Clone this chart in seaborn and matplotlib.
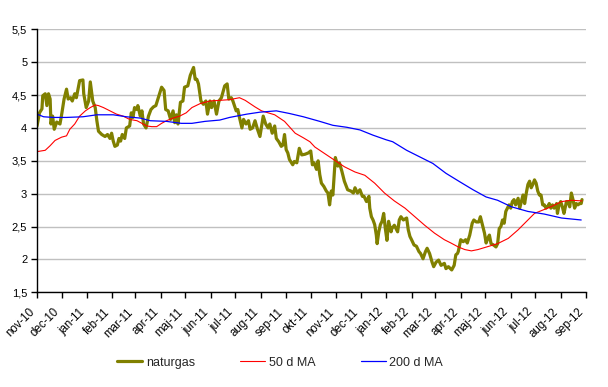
import pandas as pd
import matplotlib.pyplot as plt
import matplotlib.ticker as mticker
import matplotlib.transforms as mtransforms
import seaborn as sns

start = pd.Timestamp('2010-11-01')

# naturgas price (days since 1 nov 2010, value)
gas_days = [0, 3, 6, 7, 10, 12, 14, 16, 17, 19, 21, 24, 28, 30, 33, 36, 38, 41, 43, 46,
            48, 52, 56, 57, 60, 63, 65, 68, 71, 73, 75, 79, 83, 86, 89, 91, 93, 95, 98, 100,
            102, 104, 107, 109, 113, 115, 117, 119, 122, 123, 126, 128, 130, 133, 136, 139, 142, 145, 148, 152,
            155, 157, 160, 163, 166, 168, 170, 172, 175, 178, 180, 184, 187, 191, 193, 195, 197, 200, 203, 206,
            208, 211, 213, 216, 219, 222, 225, 229, 232, 234, 237, 239, 243, 245, 247, 250, 252, 255, 258, 260,
            263, 266, 269, 272, 274, 276, 279, 282, 284, 287, 290, 292, 295, 298, 300, 302, 304, 306, 308, 312,
            314, 317, 320, 323, 327, 331, 334, 336, 338, 341, 343, 345, 347, 350, 353, 355, 357, 359, 361, 364,
            367, 369, 372, 375, 379, 383, 386, 388, 391, 394, 397, 399, 402, 405, 406, 408, 410, 412, 414, 415,
            417, 419, 421, 423, 425, 427, 429, 432, 433, 436, 440, 442, 444, 447, 451, 453, 455, 457, 460, 463,
            466, 468, 471, 474, 476, 479, 482, 484, 487, 490, 493, 497, 499, 502, 506, 509, 511, 513, 514, 517,
            520, 523, 525, 528, 531, 533, 536, 539, 541, 544, 546, 548, 550, 552, 554, 557, 560, 562, 564, 566,
            568, 570, 572, 574, 576, 578, 580, 582, 584, 587, 589, 591, 593, 595, 597, 599, 601, 603, 605, 607,
            609, 611, 613, 615, 617, 619, 621, 623, 625, 627, 629, 631, 634, 635, 637, 639, 641, 643, 646, 648,
            650, 652, 654, 656, 658, 660, 662, 664, 665]
gas_price = [4.03, 4.23, 4.29, 4.49, 4.52, 4.34, 4.52, 4.44, 4.06, 4.18, 3.98, 4.09, 4.06, 4.20, 4.44, 4.59, 4.44, 4.46, 4.41, 4.52,
             4.46, 4.72, 4.73, 4.52, 4.31, 4.41, 4.70, 4.41, 4.31, 4.11, 3.95, 3.90, 3.87, 3.90, 3.84, 3.92, 3.80, 3.72, 3.74, 3.84,
             3.80, 3.90, 3.84, 4.00, 4.03, 4.23, 4.16, 4.31, 4.28, 4.34, 4.18, 4.26, 4.06, 4.00, 4.18, 4.28, 4.32, 4.34, 4.46, 4.62,
             4.57, 4.28, 4.26, 4.13, 4.26, 4.08, 4.20, 4.06, 4.39, 4.41, 4.62, 4.64, 4.80, 4.92, 4.74, 4.74, 4.67, 4.41, 4.36, 4.41,
             4.21, 4.41, 4.31, 4.41, 4.21, 4.41, 4.46, 4.64, 4.67, 4.44, 4.46, 4.41, 4.26, 4.28, 4.16, 4.00, 4.13, 4.06, 4.11, 3.98,
             4.00, 4.11, 3.98, 3.87, 4.03, 4.18, 4.06, 4.00, 4.06, 3.92, 4.03, 3.84, 3.79, 3.72, 3.74, 3.90, 3.67, 3.62, 3.52, 3.44,
             3.49, 3.47, 3.69, 3.59, 3.60, 3.62, 3.65, 3.44, 3.47, 3.37, 3.50, 3.29, 3.16, 3.11, 3.04, 3.01, 2.83, 3.04, 2.98, 3.55,
             3.42, 3.47, 3.34, 3.19, 3.06, 3.04, 3.01, 3.09, 3.01, 3.06, 2.96, 2.96, 2.88, 2.96, 2.78, 2.65, 2.60, 2.53, 2.37, 2.24,
             2.42, 2.53, 2.58, 2.70, 2.47, 2.29, 2.58, 2.42, 2.47, 2.52, 2.42, 2.60, 2.65, 2.60, 2.63, 2.45, 2.35, 2.30, 2.22, 2.20,
             2.12, 2.09, 2.01, 2.12, 2.17, 2.09, 1.96, 1.89, 1.96, 1.99, 1.91, 1.94, 1.86, 1.89, 1.84, 1.91, 2.07, 2.09, 2.12, 2.30,
             2.27, 2.30, 2.25, 2.37, 2.55, 2.60, 2.57, 2.57, 2.65, 2.50, 2.40, 2.25, 2.32, 2.37, 2.24, 2.22, 2.19, 2.24, 2.47, 2.50,
             2.60, 2.55, 2.73, 2.78, 2.83, 2.78, 2.88, 2.91, 2.83, 2.93, 2.78, 2.88, 2.98, 2.85, 3.01, 3.14, 3.19, 3.09, 3.14, 3.21,
             3.16, 3.04, 2.98, 2.98, 2.83, 2.83, 2.78, 2.80, 2.85, 2.78, 2.83, 2.78, 2.85, 2.70, 2.83, 2.88, 2.80, 2.70, 2.88, 2.88,
             2.80, 3.01, 2.91, 2.78, 2.85, 2.83, 2.85, 2.85, 2.91]

# 50 day moving average
ma50_days = [0, 10, 16, 22, 30, 36, 40, 46, 52, 59, 65, 71, 75, 81, 89, 97, 105, 113, 122, 128,
             134, 140, 146, 152, 158, 166, 174, 182, 189, 199, 211, 223, 235, 247, 254, 266, 274, 290, 302, 315,
             325, 333, 339, 351, 363, 375, 388, 400, 412, 424, 436, 449, 461, 473, 485, 497, 505, 514, 522, 530,
             538, 546, 562, 575, 587, 599, 607, 617, 627, 640, 652, 665]
ma50 = [3.64, 3.66, 3.73, 3.81, 3.86, 3.88, 3.98, 4.06, 4.18, 4.26, 4.31, 4.35, 4.34, 4.31, 4.26, 4.21, 4.18, 4.13, 4.11, 4.07,
        4.03, 4.02, 4.02, 4.07, 4.11, 4.15, 4.18, 4.23, 4.31, 4.37, 4.41, 4.42, 4.43, 4.46, 4.42, 4.32, 4.26, 4.20, 4.10, 3.92,
        3.85, 3.79, 3.71, 3.61, 3.51, 3.41, 3.33, 3.28, 3.16, 3.01, 2.89, 2.78, 2.65, 2.52, 2.40, 2.30, 2.25, 2.19, 2.15, 2.13,
        2.15, 2.18, 2.24, 2.32, 2.45, 2.60, 2.70, 2.75, 2.80, 2.88, 2.90, 2.89]

# 200 day moving average
ma200_days = [0, 8, 20, 36, 56, 73, 93, 109, 126, 138, 158, 176, 189, 205, 223, 235, 256, 272, 292, 308,
              325, 345, 361, 378, 394, 410, 426, 434, 451, 467, 483, 499, 516, 532, 548, 562, 579, 599, 619, 640, 664]
ma200 = [4.21, 4.17, 4.16, 4.16, 4.17, 4.20, 4.20, 4.17, 4.15, 4.11, 4.10, 4.07, 4.07, 4.10, 4.12, 4.16, 4.21, 4.24, 4.26, 4.22,
         4.17, 4.10, 4.04, 4.01, 3.97, 3.89, 3.82, 3.79, 3.66, 3.56, 3.46, 3.31, 3.18, 3.06, 2.95, 2.90, 2.80, 2.73, 2.69, 2.63, 2.60]

month_labels = ['nov-10', 'dec-10', 'jan-11', 'feb-11', 'mar-11', 'apr-11', 'maj-11', 'jun-11',
                'jul-11', 'aug-11', 'sep-11', 'okt-11', 'nov-11', 'dec-11', 'jan-12', 'feb-12',
                'mar-12', 'apr-12', 'maj-12', 'jun-12', 'jul-12', 'aug-12', 'sep-12']
y_ticks = [1.5, 2, 2.5, 3, 3.5, 4, 4.5, 5, 5.5]

sns.set_theme(style='white')
plt.rcParams['font.family'] = ['Liberation Sans', 'DejaVu Sans']

gas = pd.DataFrame({'date': start + pd.to_timedelta(gas_days, unit='D'), 'value': gas_price})
d50 = pd.DataFrame({'date': start + pd.to_timedelta(ma50_days, unit='D'), 'value': ma50})
d200 = pd.DataFrame({'date': start + pd.to_timedelta(ma200_days, unit='D'), 'value': ma200})

fig = plt.figure(figsize=(6.08, 3.87), dpi=100)
ax = fig.add_axes([0.0609, 0.2447, 0.9031, 0.6795])
ax.yaxis.grid(True, color='#c0c0c0', lw=1)
ax.xaxis.grid(False)
ax.set_axisbelow(True)

sns.lineplot(data=gas, x='date', y='value', color='#808000', lw=2.3, label='naturgas', ax=ax)
sns.lineplot(data=d50, x='date', y='value', color='#ff0000', lw=0.8, label='50 d MA', ax=ax)
sns.lineplot(data=d200, x='date', y='value', color='#0000ff', lw=0.9, label='200 d MA', ax=ax)

ax.set_ylim(1.5, 5.5)
ax.set_yticks(y_ticks)
ax.yaxis.set_major_formatter(mticker.FuncFormatter(lambda v, p: f'{v:g}'.replace('.', ',')))
ax.set_xlim(start, pd.Timestamp('2012-09-01'))
ax.set_xticks(pd.date_range(start, periods=len(month_labels), freq='MS'))
ax.set_xticklabels(month_labels, rotation=45, ha='right', va='center', rotation_mode='anchor')
ax.set_xlabel('')
ax.set_ylabel('')

ax.tick_params(axis='both', labelsize=8, colors='black', direction='out', length=4, width=1,
               left=True, bottom=True, pad=3)
ax.tick_params(axis='x', labelsize=8.3, pad=5)
shift = mtransforms.ScaledTranslation(-3 / 72, -4 / 72, fig.dpi_scale_trans)
for lab in ax.get_xticklabels():
    lab.set_transform(lab.get_transform() + shift)

for s in ['top', 'right']:
    ax.spines[s].set_visible(False)
for s in ['left', 'bottom']:
    ax.spines[s].set_color('black')
    ax.spines[s].set_linewidth(1)

handles, labels = ax.get_legend_handles_labels()
ax.get_legend().remove()
fig.legend(handles, labels, loc='center', bbox_to_anchor=(0.461, 0.063), ncol=3, frameon=False,
           fontsize=9, handlelength=2.0, handletextpad=0.3, columnspacing=3.6)

fig.savefig('out.png', dpi=100, facecolor='white')
